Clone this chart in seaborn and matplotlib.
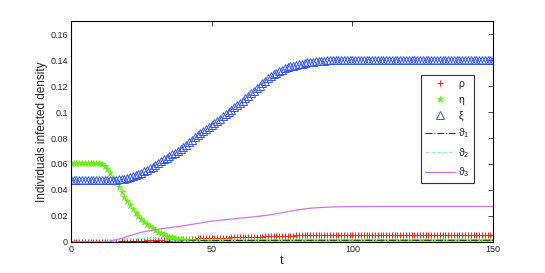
import numpy as np
import seaborn as sns
import matplotlib
matplotlib.use("Agg")
import matplotlib.pyplot as plt

# time grid (one marker per unit of t)
t = np.arange(0, 151)

# xi (blue triangles)
xi = ([0.0478] * 16 +
      [0.0480, 0.0482, 0.0485, 0.0488, 0.0492, 0.0498, 0.0505, 0.0512, 0.0522, 0.0533,
       0.0545, 0.0556, 0.0568, 0.0580, 0.0594, 0.0608, 0.0622, 0.0635, 0.0648, 0.0661,
       0.0674, 0.0688, 0.0702, 0.0717, 0.0733, 0.0750, 0.0768, 0.0786, 0.0804, 0.0820,
       0.0836, 0.0851, 0.0866, 0.0881, 0.0897, 0.0914, 0.0932, 0.0950, 0.0967, 0.0984,
       0.1001, 0.1018, 0.1035, 0.1052, 0.1070, 0.1088, 0.1106, 0.1125, 0.1144, 0.1163,
       0.1183, 0.1203, 0.1222, 0.1240, 0.1258, 0.1274, 0.1289, 0.1302, 0.1314, 0.1325,
       0.1335, 0.1344, 0.1351, 0.1357, 0.1362, 0.1367, 0.1372, 0.1377, 0.1381, 0.1385,
       0.1388, 0.1391, 0.1393, 0.1395, 0.1396, 0.1397, 0.1398, 0.1398, 0.1399, 0.1399] +
      [0.1400] * 55)

# eta (green stars)
eta = ([0.0610] * 8 +
       [0.0609, 0.0607, 0.0604, 0.0598, 0.0585, 0.0563, 0.0532, 0.0496, 0.0458, 0.0420,
        0.0382, 0.0346, 0.0312, 0.0281, 0.0252, 0.0225, 0.0200, 0.0177, 0.0156, 0.0137,
        0.0120, 0.0105, 0.0091, 0.0079, 0.0068, 0.0058, 0.0049, 0.0042, 0.0035, 0.0030,
        0.0025, 0.0021, 0.0018, 0.0015, 0.0013, 0.0011, 0.0010, 0.0009, 0.0008, 0.0007,
        0.0006, 0.0005, 0.0005] +
       [0.0004] * 100)

# rho (red plus)
rho = ([0.0] * 13 +
       [0.0001, 0.0001, 0.0002, 0.0002, 0.0003, 0.0004, 0.0004, 0.0005, 0.0006, 0.0007,
        0.0008, 0.0009, 0.0010, 0.0011, 0.0012, 0.0013, 0.0014, 0.0015, 0.0016, 0.0017,
        0.0018, 0.0019, 0.0020, 0.0020, 0.0021, 0.0022, 0.0023, 0.0023, 0.0024, 0.0025,
        0.0025, 0.0026, 0.0027, 0.0027, 0.0028, 0.0029, 0.0029, 0.0030, 0.0031, 0.0031,
        0.0032, 0.0033, 0.0033, 0.0034, 0.0035, 0.0035, 0.0036, 0.0037, 0.0037, 0.0038,
        0.0039, 0.0039, 0.0040, 0.0041, 0.0041, 0.0042, 0.0043, 0.0043, 0.0044, 0.0045,
        0.0045, 0.0046, 0.0047, 0.0047, 0.0048, 0.0049, 0.0049, 0.0050, 0.0050, 0.0051,
        0.0051, 0.0052, 0.0052, 0.0052, 0.0053, 0.0053, 0.0053, 0.0054, 0.0054, 0.0054,
        0.0054, 0.0055, 0.0055] +
       [0.0055] * 55)

# theta lines
t_th1 = [0, 10, 20, 30, 40, 50, 60, 80, 100, 150]
th1 = [0, 0, 0.0001, 0.0004, 0.0008, 0.0011, 0.0012, 0.0013, 0.0013, 0.0013]

t_th2 = [0, 10, 15, 20, 25, 30, 35, 40, 50, 150]
th2 = [0, 0, 0.0005, 0.0020, 0.0030, 0.0025, 0.0012, 0.0005, 0.0002, 0.0002]

t_th3 = [0, 13, 15, 18, 20, 25, 30, 40, 50, 55, 60, 67, 70, 75, 80, 85, 90, 95, 100, 110, 150]
th3 = [0, 0, 0.0012, 0.0028, 0.0042, 0.0075, 0.0095, 0.0125, 0.0160, 0.0172, 0.0183,
       0.0198, 0.0207, 0.0225, 0.0245, 0.0260, 0.0267, 0.0271, 0.0272, 0.0273, 0.0273]

yticks = [0, 0.02, 0.04, 0.06, 0.08, 0.1, 0.12, 0.14, 0.16]
ytick_labels = ["0", "0.02", "0.04", "0.06", "0.08", "0.1", "0.12", "0.14", "0.16"]
xticks = [0, 50, 100, 150]

sns.set_style("white")
plt.rcParams["font.family"] = ["Liberation Sans", "DejaVu Sans"]
plt.rcParams["mathtext.fontset"] = "custom"
plt.rcParams["mathtext.rm"] = "Liberation Sans"

fig = plt.figure(figsize=(5.45, 2.73), dpi=100)
ax = fig.add_axes([0.130, 0.1136, 0.775, 0.8094])

red, green, blue = "#ff2222", "#66ee11", "#3355ff"
sns.lineplot(x=t, y=rho, ax=ax, color=red, marker="+", linestyle="",
             markersize=5, markeredgewidth=0.7, markeredgecolor=red, label="ρ")
sns.lineplot(x=t, y=eta, ax=ax, color=green, marker="*", linestyle="",
             markersize=5, markeredgewidth=0.5, markeredgecolor=green,
             markerfacecolor=green, label="η")
sns.lineplot(x=t, y=xi, ax=ax, color=blue, marker="^", linestyle="",
             markersize=5.5, markeredgewidth=0.7, markerfacecolor="none",
             markeredgecolor=blue, label="ξ")
sns.lineplot(x=t_th1, y=th1, ax=ax, color="#333333", linestyle="-.",
             linewidth=0.8, label="ϑ$_1$")
sns.lineplot(x=t_th2, y=th2, ax=ax, color="#88f5dd", linestyle="--",
             linewidth=0.8, label="ϑ$_2$")
sns.lineplot(x=t_th3, y=th3, ax=ax, color="#cc77ee", linestyle="-",
             linewidth=0.9, label="ϑ$_3$")

ax.set_xlim(0, 150)
ax.set_ylim(0, 0.17)
ax.set_xticks(xticks)
ax.set_xticklabels([str(v) for v in xticks])
ax.set_yticks(yticks)
ax.set_yticklabels(ytick_labels)
ax.tick_params(direction="in", length=3.5, width=0.7, labelsize=6.5,
               top=True, right=True, color="#444444", pad=2)
for s in ax.spines.values():
    s.set_color("black")
    s.set_linewidth(0.8)

ax.set_xlabel("t", fontsize=9, labelpad=1)
ax.set_ylabel("Individuals infected density", fontsize=8.5, labelpad=2)

leg = ax.legend(loc="upper left", bbox_to_anchor=(0.829, 0.756), borderaxespad=0,
                fontsize=7.5, handlelength=2.9, handletextpad=0.3, labelspacing=0.55,
                borderpad=0.4, fancybox=False, frameon=True, numpoints=1)
leg.get_frame().set_edgecolor("black")
leg.get_frame().set_linewidth(0.8)

fig.savefig("out.png", dpi=100)
